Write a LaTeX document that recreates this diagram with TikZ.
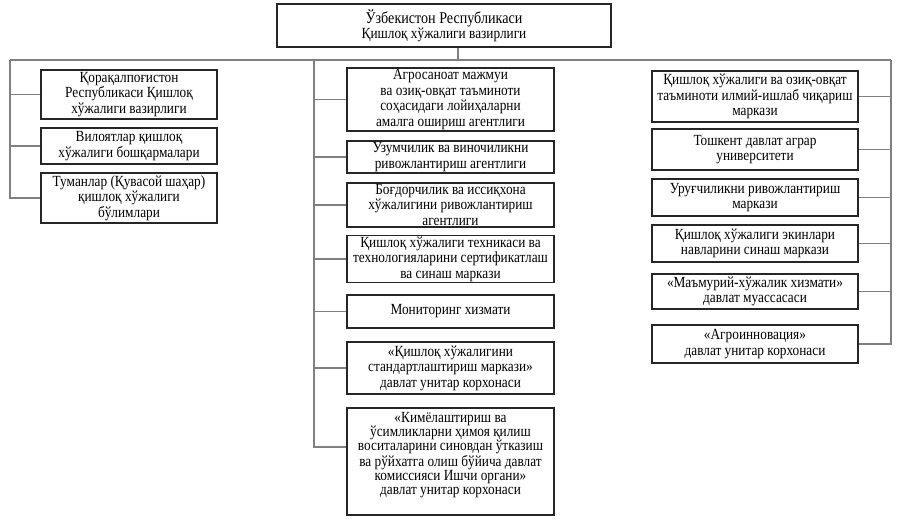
\documentclass[tikz,border=0pt]{standalone}
\usepackage{fontspec}
\setmainfont{Liberation Serif}[FakeStretch=0.86]
\begin{document}
\begin{tikzpicture}[x=0.75pt,y=-0.75pt,
  box/.style={draw=black!85,line width=1.1pt,align=center,inner sep=1pt,
    font=\fontsize{11.6}{11.6}\selectfont},
  txt/.style={align=center,inner sep=0pt,font=\fontsize{11.6}{10.6}\selectfont},
  conn/.style={draw=black!50,line width=0.8pt}]
\useasboundingbox (0,0) rectangle (898,520);
\newcommand{\bx}[6]{\node[box,minimum width={(#4-#2)*0.75pt},minimum height={(#5-#3)*0.75pt}] (#1) at ({(#2+#4)/2},{(#3+#5)/2}) {#6};}
% top
\bx{top}{277}{4}{611}{47}{\fontsize{12.3}{12.5}\selectfont Ўзбекистон Республикаси\\Қишлоқ хўжалиги вазирлиги}
% left column
\bx{l1}{41}{70}{217}{119}{Қорақалпоғистон\\Республикаси Қишлоқ\\хўжалиги вазирлиги}
\bx{l2}{41}{128}{217}{164}{Вилоятлар қишлоқ\\хўжалиги бошқармалари}
\bx{l3}{41}{173}{217}{223}{Туманлар (Қувасой шаҳар)\\қишлоқ хўжалиги\\бўлимлари}
% middle column
\bx{m1}{347}{68}{554}{131}{Агросаноат мажмуи\\ва озиқ-овқат таъминоти\\соҳасидаги лойиҳаларни\\амалга ошириш агентлиги}
\bx{m2}{347}{141}{554}{173}{Узумчилик ва виночиликни\\ривожлантириш агентлиги}
\bx{m3}{347}{183}{554}{227}{Боғдорчилик ва иссиқхона\\хўжалигини ривожлантириш\\агентлиги}
\bx{m4}{347}{236}{554}{282}{Қишлоқ хўжалиги техникаси ва\\технологияларини сертификатлаш\\ва синаш маркази}
\bx{m5}{347}{295}{554}{328}{Мониторинг хизмати}
\bx{m6}{347}{342}{554}{394}{«Қишлоқ хўжалигини\\стандартлаштириш маркази»\\давлат унитар корхонаси}
\bx{m7}{347}{408}{554}{515}{}
\node[txt] (m7t) at (450.5,455) {«Кимёлаштириш ва\\ўсимликларни ҳимоя қилиш\\воситаларини синовдан ўтказиш\\ва рўйхатга олиш бўйича давлат\\комиссияси Ишчи органи»\\давлат унитар корхонаси};
% right column
\bx{r1}{652}{71}{858}{122}{Қишлоқ хўжалиги ва озиқ-овқат\\таъминоти илмий-ишлаб чиқариш\\маркази}
\bx{r2}{652}{129}{858}{170}{Тошкент давлат аграр\\университети}
\bx{r3}{652}{179}{858}{216}{Уруғчиликни ривожлантириш\\маркази}
\bx{r4}{652}{225}{858}{262}{Қишлоқ хўжалиги экинлари\\навларини синаш маркази}
\bx{r5}{652}{274}{858}{309}{«Маъмурий-хўжалик хизмати»\\давлат муассасаси}
\bx{r6}{652}{325}{858}{363}{«Агроинновация»\\давлат унитар корхонаси}
% trunk coordinates
\coordinate (tc) at (458,60);
\coordinate (lt) at (10,60);
\coordinate (mt) at (314,60);
\coordinate (rt) at (891,60);
\coordinate (m7b) at (314,447);
% connectors
\draw[conn] (top.south -| tc) -- (tc);
\draw[conn] (lt) -- (rt);
\draw[conn] (lt) |- (l3.west);
\draw[conn] (l1.west) -- (l1.west -| lt);
\draw[conn] (l2.west) -- (l2.west -| lt);
\draw[conn] (mt) -- (m7b) -- (m7b -| m7.west);
\foreach \n in {m1,m2,m3,m4,m5,m6}{\draw[conn] (\n.west) -- (\n.west -| mt);}
\draw[conn] (rt) |- (r6.east);
\foreach \n in {r1,r2,r3,r4,r5}{\draw[conn] (\n.east) -- (\n.east -| rt);}
\end{tikzpicture}
\end{document}
